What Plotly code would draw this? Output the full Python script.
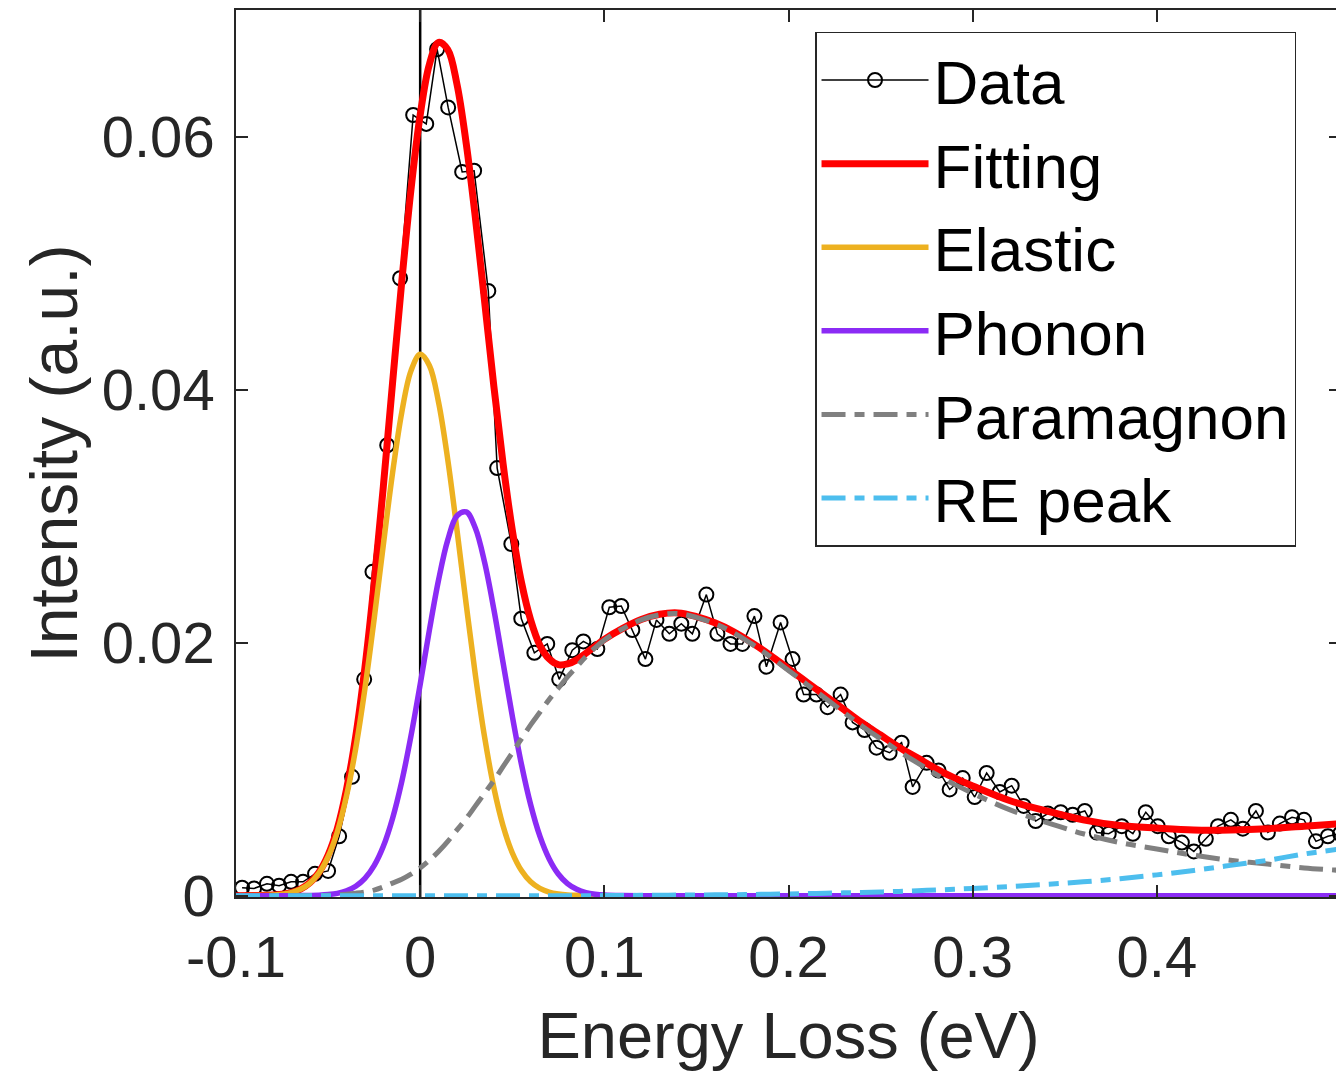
import plotly.graph_objects as go

# ---------------- data ----------------
data_energy = [-0.0967, -0.0902, -0.0832, -0.0766, -0.0701, -0.0636, -0.0571, -0.0500,
               -0.0440, -0.0370, -0.0304, -0.0259, -0.0179, -0.0109, -0.0038, 0.0033,
               0.0092, 0.0152, 0.0228, 0.0293, 0.0370, 0.0418, 0.0495, 0.0549,
               0.0620, 0.0690, 0.0755, 0.0826, 0.0886, 0.0962, 0.1027, 0.1092,
               0.1152, 0.1223, 0.1283, 0.1353, 0.1418, 0.1478, 0.1554, 0.1614,
               0.1685, 0.1750, 0.1815, 0.1880, 0.1957, 0.2022, 0.2082, 0.2152,
               0.2212, 0.2283, 0.2348, 0.2413, 0.2478, 0.2549, 0.2614, 0.2674,
               0.2750, 0.2815, 0.2875, 0.2946, 0.3011, 0.3076, 0.3147, 0.3212,
               0.3277, 0.3342, 0.3408, 0.3478, 0.3543, 0.3609, 0.3674, 0.3739,
               0.3810, 0.3870, 0.3940, 0.4005, 0.4065, 0.4136, 0.4201, 0.4266,
               0.4332, 0.4402, 0.4467, 0.4538, 0.4603, 0.4668, 0.4734, 0.4799,
               0.4864, 0.4929, 0.4995]
data_intensity = [0.00063, 0.00058, 0.00094, 0.00079, 0.0011, 0.0011, 0.00173, 0.00196,
                  0.0047, 0.0094, 0.0171, 0.0256, 0.0356, 0.0488, 0.0617, 0.0610,
                  0.0669, 0.0623, 0.0572, 0.0573, 0.0478, 0.0338, 0.0278, 0.0219,
                  0.0192, 0.0199, 0.0171, 0.0194, 0.0201, 0.0195, 0.0228, 0.0229,
                  0.0210, 0.0187, 0.0218, 0.0207, 0.0215, 0.0207, 0.0238, 0.0207,
                  0.0199, 0.0199, 0.0221, 0.0181, 0.0216, 0.0187, 0.0159, 0.0159,
                  0.0149, 0.0159, 0.0137, 0.0131, 0.0117, 0.0113, 0.0121, 0.0086,
                  0.0105, 0.0099, 0.0084, 0.0093, 0.0078, 0.0097, 0.0082, 0.0087,
                  0.0071, 0.0059, 0.0065, 0.0066, 0.0064, 0.0067, 0.0050, 0.0049,
                  0.0055, 0.0049, 0.0066, 0.0055, 0.0047, 0.0042, 0.0035, 0.0045,
                  0.0055, 0.0060, 0.0053, 0.0067, 0.0050, 0.0057, 0.0062, 0.0060,
                  0.0043, 0.0047, 0.0049]

model_energy = [-0.100, -0.090, -0.080, -0.075, -0.070, -0.065, -0.060, -0.055, -0.050,
                -0.045, -0.040, -0.035, -0.030, -0.025, -0.020, -0.015, -0.010, -0.005,
                0.000, 0.005, 0.010, 0.015, 0.020, 0.025, 0.030, 0.035, 0.040, 0.045,
                0.050, 0.055, 0.060, 0.065, 0.070, 0.075, 0.080, 0.085, 0.090, 0.095,
                0.100, 0.11, 0.12, 0.13, 0.14, 0.15, 0.16, 0.17, 0.18, 0.19, 0.20,
                0.21, 0.22, 0.23, 0.24, 0.25, 0.26, 0.27, 0.28, 0.29, 0.30,
                0.32, 0.34, 0.36, 0.38, 0.40, 0.42, 0.44, 0.46, 0.48, 0.50]

elastic = [0, 0.00001, 0.00005, 0.00012, 0.00025, 0.00051, 0.00098, 0.00178, 0.00308,
           0.00504, 0.00789, 0.01164, 0.01636, 0.02186, 0.02773, 0.03340, 0.03820, 0.04148,
           0.04279, 0.04191, 0.03899, 0.03445, 0.02889, 0.02302, 0.01742, 0.01252, 0.00854,
           0.00553, 0.00340, 0.00199, 0.00110, 0.00058, 0.00029, 0.00014, 0.00006, 0.00003,
           0.00001, 0, 0,
           0, 0, 0, 0, 0, 0, 0, 0, 0, 0,
           0, 0, 0, 0, 0, 0, 0, 0, 0, 0,
           0, 0, 0, 0, 0, 0, 0, 0, 0, 0]

phonon = [0, 0, 0, 0, 0, 0.00001, 0.00002, 0.00004, 0.00009,
          0.00019, 0.00039, 0.00075, 0.00137, 0.00238, 0.00391, 0.00611, 0.00902, 0.01262,
          0.01670, 0.02099, 0.02496, 0.02812, 0.03003, 0.03033, 0.02904, 0.02634, 0.02264,
          0.01844, 0.01422, 0.01038, 0.00719, 0.00471, 0.00293, 0.00172, 0.00096, 0.00051,
          0.00025, 0.00012, 0.00005,
          0.00001, 0, 0, 0, 0, 0, 0, 0, 0, 0,
          0, 0, 0, 0, 0, 0, 0, 0, 0, 0,
          0, 0, 0, 0, 0, 0, 0, 0, 0, 0]

paramagnon = [0, 0, 0, 0, 0, 0, 0.00001, 0.00002, 0.00004,
              0.00007, 0.00012, 0.0002, 0.0003, 0.00045, 0.0007, 0.0010, 0.0013, 0.0017,
              0.0022, 0.0028, 0.0035, 0.0043, 0.0052, 0.0061, 0.0071, 0.0081, 0.0091,
              0.0102, 0.0113, 0.0124, 0.0135, 0.0145, 0.0155, 0.0164, 0.0173, 0.0181,
              0.0189, 0.0196, 0.0202,
              0.0211, 0.0218, 0.0222, 0.0223, 0.0220, 0.0215, 0.0208, 0.0199, 0.0189, 0.0178,
              0.0167, 0.0156, 0.0145, 0.0134, 0.0124, 0.0114, 0.0105, 0.0096, 0.0088, 0.0081,
              0.0068, 0.0058, 0.0049, 0.0042, 0.0037, 0.0032, 0.0028, 0.0025, 0.0022, 0.0020]

re_peak = [0, 0, 0, 0, 0, 0, 0, 0, 0,
           0, 0, 0, 0, 0, 0, 0, 0, 0,
           0, 0, 0, 0, 0, 0, 0, 0, 0,
           0, 0, 0, 0, 0, 0, 0, 0, 0,
           0, 0, 0.00001,
           0.00002, 0.00003, 0.00004, 0.00005, 0.00006, 0.00007, 0.00008, 0.0001, 0.00012, 0.00014,
           0.00017, 0.0002, 0.00023, 0.00026, 0.0003, 0.00034, 0.0004, 0.00045, 0.00051, 0.00058,
           0.00073, 0.0009, 0.0011, 0.00135, 0.00165, 0.0020, 0.0024, 0.0028, 0.0033, 0.0037]

fitting = [e + p + m + r for e, p, m, r in zip(elastic, phonon, paramagnon, re_peak)]

x_tickvals = [-0.1, 0, 0.1, 0.2, 0.3, 0.4]
x_ticktext = ["-0.1", "0", "0.1", "0.2", "0.3", "0.4"]
y_tickvals = [0, 0.02, 0.04, 0.06]
y_ticktext = ["0", "0.02", "0.04", "0.06"]
zero_line_x = 0

FONT = "Liberation Sans, Arial, Helvetica, sans-serif"
TXT = "#262626"
DASHDOT = "24px,9px,10px,9px"

fig = go.Figure()
fig.add_trace(go.Scatter(x=data_energy, y=data_intensity, name="Data", mode="lines+markers",
                         line=dict(color="black", width=1.5),
                         marker=dict(symbol="circle-open", size=14, color="black",
                                     line=dict(width=2, color="black"))))
fig.add_trace(go.Scatter(x=model_energy, y=fitting, name="Fitting", mode="lines",
                         line=dict(color="#FF0000", width=7, shape="spline")))
fig.add_trace(go.Scatter(x=model_energy, y=elastic, name="Elastic", mode="lines",
                         line=dict(color="#EDB120", width=5.5, shape="spline")))
fig.add_trace(go.Scatter(x=model_energy, y=phonon, name="Phonon", mode="lines",
                         line=dict(color="#8B2BF5", width=5.5, shape="spline")))
fig.add_trace(go.Scatter(x=model_energy, y=paramagnon, name="Paramagnon", mode="lines",
                         line=dict(color="#808080", width=5, shape="spline", dash=DASHDOT)))
fig.add_trace(go.Scatter(x=model_energy, y=re_peak, name="RE peak", mode="lines",
                         line=dict(color="#4DBEEE", width=5, shape="spline", dash=DASHDOT)))

fig.add_vline(x=zero_line_x, line=dict(color="black", width=2.5), layer="below")

fig.update_layout(
    width=1336, height=1064,
    margin=dict(l=228, r=3, t=0, b=175),
    paper_bgcolor="white", plot_bgcolor="white",
    font=dict(family=FONT, color=TXT),
    showlegend=True,
    legend=dict(x=0.524, y=0.9755, xanchor="left", yanchor="top",
                bgcolor="white", bordercolor="#262626", borderwidth=1.5,
                font=dict(family=FONT, size=62, color="black"),
                itemwidth=107, tracegroupgap=0),
)
fig.update_xaxes(range=[-0.1, 0.5], tickvals=x_tickvals, ticktext=x_ticktext,
                 showline=True, linecolor="#262626", linewidth=1.5, mirror="ticks",
                 ticks="inside", ticklen=12, tickwidth=1.5, tickcolor="#262626",
                 showgrid=False, zeroline=False,
                 tickfont=dict(family=FONT, size=58, color=TXT), ticklabelstandoff=9,
                 title=dict(text="Energy Loss (eV)", font=dict(family=FONT, size=65, color=TXT),
                            standoff=28))
fig.update_yaxes(range=[-0.0001, 0.07], tickvals=y_tickvals, ticktext=y_ticktext,
                 showline=True, linecolor="#262626", linewidth=1.5, mirror="ticks",
                 ticks="inside", ticklen=12, tickwidth=1.5, tickcolor="#262626",
                 showgrid=False, zeroline=False,
                 tickfont=dict(family=FONT, size=58, color=TXT), ticklabelstandoff=8,
                 title=dict(text="Intensity (a.u.)", font=dict(family=FONT, size=66, color=TXT),
                            standoff=3))

fig.write_html("out.html")
